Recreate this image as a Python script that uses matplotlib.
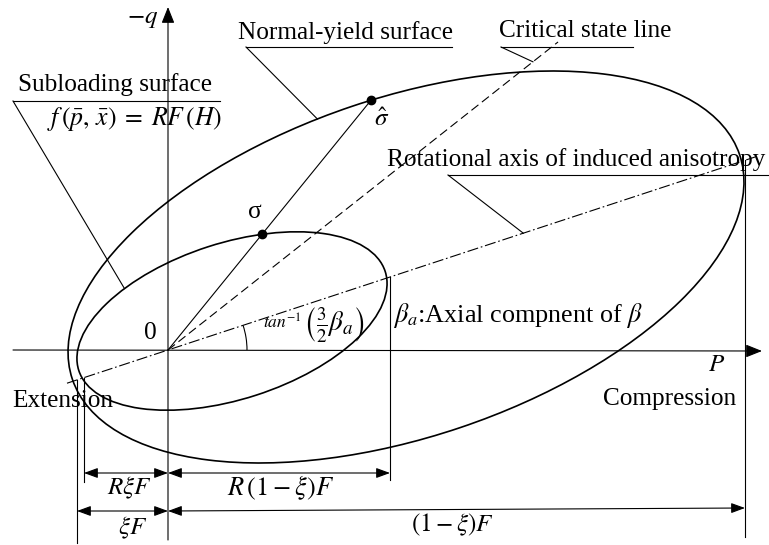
import numpy as np
import matplotlib.pyplot as plt
from matplotlib.patches import Ellipse, Arc

plt.rcParams['font.family'] = ['Liberation Serif', 'DejaVu Serif']
plt.rcParams['mathtext.fontset'] = 'stix'

# geometry of the sketch (pixel-like units, origin at the 0 point)
axis_angle = 18.2      # rotational axis of induced anisotropy, deg
csl_angle = 38.3       # critical state line, deg
stress_angle = 50.9    # direction of sigma / sigma-hat, deg
axis_span = [-101, 587]
csl_length = 497

outer_center = [238.0, 83.0]   # normal-yield surface
outer_semi = [352.0, 169.5]
outer_tilt = 18.6
inner_center = [64.0, 29.0]    # subloading surface
inner_semi = [161.0, 78.0]
inner_tilt = 17.9

# dimension marks: R*xi*F, R(1-xi)F, xi*F, (1-xi)F
dim_left = [-84, -91]
dim_right = [222, 577]
dim_labels = [r'$R\xi F$', r'$R\,(1-\xi)F$', r'$\xi F$', r'$(1-\xi)F$']

fig = plt.figure(figsize=(7.69, 5.45), dpi=100)
ax = fig.add_axes([0, 0, 1, 1])
ax.set_xlim(-168, 601)
ax.set_ylim(-195, 350)
ax.axis('off')

FS = 18.2   # text size
FM = 18     # math label size
LW = 0.8


def rot(deg):
    t = np.radians(deg)
    return np.array([[np.cos(t), -np.sin(t)], [np.sin(t), np.cos(t)]])


def line_hits(center, semi, tilt, ang):
    # both intersections of a line through the origin with a tilted ellipse
    d = np.array([np.cos(np.radians(ang)), np.sin(np.radians(ang))])
    R = rot(-tilt)
    dl = R @ d
    cl = R @ (-np.asarray(center))
    a, b = semi
    A = (dl[0] / a) ** 2 + (dl[1] / b) ** 2
    B = 2 * (dl[0] * cl[0] / a ** 2 + dl[1] * cl[1] / b ** 2)
    C = (cl[0] / a) ** 2 + (cl[1] / b) ** 2 - 1
    disc = np.sqrt(B * B - 4 * A * C)
    return (-B - disc) / (2 * A) * d, (-B + disc) / (2 * A) * d


def on_ellipse(center, semi, tilt, t):
    t = np.radians(t)
    return np.asarray(center) + rot(tilt) @ np.array([semi[0] * np.cos(t), semi[1] * np.sin(t)])


ax.add_patch(Ellipse(outer_center, 2 * outer_semi[0], 2 * outer_semi[1], angle=outer_tilt,
                     fill=False, lw=1.2, color='k'))
ax.add_patch(Ellipse(inner_center, 2 * inner_semi[0], 2 * inner_semi[1], angle=inner_tilt,
                     fill=False, lw=1.2, color='k'))

# coordinate axes
arrow = dict(arrowstyle='-|>,head_length=0.55,head_width=0.22', lw=LW, color='k',
             shrinkA=0, shrinkB=0, mutation_scale=18)
ax.annotate('', xy=(594, -1), xytext=(-155, 0), arrowprops=arrow)
ax.annotate('', xy=(0, 343), xytext=(0, -190), arrowprops=arrow)

# rotational axis (dash-dot) and critical state line (dashed)
k = np.tan(np.radians(axis_angle))
ax.plot(axis_span, [k * axis_span[0], k * axis_span[1]], color='k', lw=LW,
        ls=(0, (10, 2.5, 1.5, 2.5)))
ct = np.radians(csl_angle)
ax.plot([0, csl_length * np.cos(ct)], [0, csl_length * np.sin(ct)], color='k', lw=LW,
        ls=(0, (8, 4)))

# stress points on the two surfaces
s_hat = line_hits(outer_center, outer_semi, outer_tilt, stress_angle)[1]
s_sub = line_hits(inner_center, inner_semi, inner_tilt, stress_angle)[1]
ax.plot([0, s_hat[0]], [0, s_hat[1]], color='k', lw=LW)
ax.plot([s_sub[0], s_hat[0]], [s_sub[1], s_hat[1]], 'o', color='k', ms=6)
ax.text(s_sub[0] - 7, s_sub[1] + 22, 'σ', fontsize=FS, ha='center', va='center')
ax.text(s_hat[0] + 11, s_hat[1] - 19, r'$\hat{\sigma}$', fontsize=FM, ha='center', va='center')

# angle arc and its label
ax.add_patch(Arc((0, 0), 158, 158, theta1=0, theta2=axis_angle, lw=LW, color='k'))
ax.text(95, 27, r'$tan^{-1}$', fontsize=12.5, va='center')
ax.text(135, 25, r'$\left(\frac{3}{2}\beta_a\right)$', fontsize=19.5, va='center')

# labels with leaders
ax.text(70, 311, 'Normal-yield surface', fontsize=FS)
ax.plot([78, 284], [303, 303], color='k', lw=LW)
p = on_ellipse(outer_center, outer_semi, outer_tilt, 96)
ax.plot([78, p[0]], [303, p[1]], color='k', lw=LW)

ax.text(331, 313, 'Critical state line', fontsize=FS)
ax.plot([333, 465], [303, 303], color='k', lw=LW)
q = 465 * np.array([np.cos(ct), np.sin(ct)])
ax.plot([333, q[0]], [303, q[1]], color='k', lw=LW)

ax.text(-150, 259, 'Subloading surface', fontsize=FS)
ax.plot([-155, 52], [249, 249], color='k', lw=LW)
p = on_ellipse(inner_center, inner_semi, inner_tilt, 125)
ax.plot([-155, p[0]], [249, p[1]], color='k', lw=LW)
ax.text(-121, 225, r'$f\,(\bar{p},\,\bar{x})\;=\;RF\,(H)$', fontsize=18.5)

ax.text(219, 184, 'Rotational axis of induced anisotropy', fontsize=FS)
ax.plot([280, 601], [175, 175], color='k', lw=LW)
ax.plot([280, 374 * np.cos(np.radians(axis_angle))], [175, 374 * np.sin(np.radians(axis_angle))],
        color='k', lw=LW)

ax.text(225, 28, r'$\beta_a$:Axial compnent of $\beta$', fontsize=18.8)
ax.text(-18, 17, '0', fontsize=FS, ha='center', va='center')
ax.text(-25, 331, r'$-q$', fontsize=FM, ha='center', va='center')
ax.text(549, -15, r'$P$', fontsize=FM, ha='center', va='center')
ax.text(435, -55, 'Compression', fontsize=FS)
ax.text(-156, -57, 'Extension', fontsize=FS)

# dimension lines, starting where they meet the rotational axis
for x0, ybot in zip(dim_left + dim_right, [-132, -193, -130, -187]):
    ax.plot([x0, x0], [k * x0, ybot], color='k', lw=LW)

dim = dict(arrowstyle='<|-|>,head_length=0.6,head_width=0.22', lw=LW, color='k',
           shrinkA=0, shrinkB=0, mutation_scale=14)
y1, y2 = -123, -161
ax.annotate('', xy=(0, y1), xytext=(dim_left[0], y1), arrowprops=dim)
ax.annotate('', xy=(dim_right[0], y1), xytext=(0, y1), arrowprops=dim)
ax.annotate('', xy=(0, y2), xytext=(dim_left[1], y2), arrowprops=dim)
ax.annotate('', xy=(dim_right[1], y2 + 3), xytext=(0, y2), arrowprops=dim)

ax.text(-38, y1 - 15, dim_labels[0], fontsize=FM, ha='center', va='center')
ax.text(113, y1 - 15, dim_labels[1], fontsize=19, ha='center', va='center')
ax.text(-35, y2 - 17, dim_labels[2], fontsize=FM, ha='center', va='center')
ax.text(284, y2 - 14, dim_labels[3], fontsize=FM, ha='center', va='center')

fig.savefig('out.png', dpi=100)
